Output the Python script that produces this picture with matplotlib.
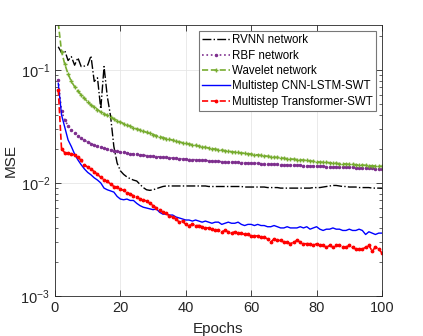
import matplotlib
matplotlib.use("Agg")
import matplotlib.pyplot as plt
import numpy as np
from matplotlib.ticker import LogLocator, NullFormatter

plt.rcParams['font.family'] = ['Liberation Sans', 'DejaVu Sans']
plt.rcParams['mathtext.fontset'] = 'custom'
plt.rcParams['mathtext.rm'] = 'Liberation Sans'

epochs = list(range(1, 101))

rvnn = [0.160, 0.142, 0.148, 0.121, 0.131, 0.110, 0.128, 0.107, 0.108, 0.110,
        0.133, 0.079, 0.085, 0.045, 0.107, 0.058, 0.039, 0.021, 0.0150, 0.0128,
        0.0119, 0.0113, 0.0109, 0.0106, 0.0104, 0.0097, 0.0091, 0.0087, 0.0086, 0.0087,
        0.0089, 0.0091, 0.0093, 0.0094, 0.0094, 0.0094, 0.0094, 0.0094, 0.0094, 0.0094,
        0.0094, 0.0094, 0.0094, 0.0094, 0.0094, 0.0094, 0.0093, 0.0093, 0.0093, 0.0093,
        0.0093, 0.0093, 0.0093, 0.0093, 0.0093, 0.0093, 0.0093, 0.0092, 0.0092, 0.0092,
        0.0092, 0.0092, 0.0092, 0.0092, 0.0091, 0.0091, 0.0091, 0.0091, 0.0090, 0.0090,
        0.0090, 0.0090, 0.0090, 0.0090, 0.0090, 0.0090, 0.0090, 0.0090, 0.0091, 0.0091,
        0.0091, 0.0092, 0.0093, 0.0094, 0.0095, 0.0095, 0.0094, 0.0093, 0.0093, 0.0092,
        0.0092, 0.0092, 0.0091, 0.0091, 0.0091, 0.0091, 0.0090, 0.0090, 0.0090, 0.0090]

rbf = [0.082, 0.043, 0.036, 0.032, 0.0295, 0.0275, 0.0260, 0.0248, 0.0238, 0.0230,
       0.0223, 0.0217, 0.0212, 0.0207, 0.0203, 0.0199, 0.0196, 0.0193, 0.0190, 0.0188,
       0.0186, 0.0184, 0.0182, 0.0180, 0.0179, 0.0177, 0.0176, 0.0174, 0.0173, 0.0172,
       0.0171, 0.0170, 0.0169, 0.0168, 0.0167, 0.0166, 0.0165, 0.0164, 0.0163, 0.0162,
       0.0161, 0.0161, 0.0160, 0.0159, 0.0158, 0.0158, 0.0157, 0.0156, 0.0156, 0.0155,
       0.0154, 0.0154, 0.0153, 0.0153, 0.0152, 0.0152, 0.0151, 0.0151, 0.0150, 0.0150,
       0.0149, 0.0149, 0.0148, 0.0148, 0.0147, 0.0147, 0.0146, 0.0146, 0.0145, 0.0145,
       0.0144, 0.0144, 0.0143, 0.0143, 0.0143, 0.0142, 0.0142, 0.0141, 0.0141, 0.0141,
       0.0140, 0.0140, 0.0139, 0.0139, 0.0139, 0.0138, 0.0138, 0.0138, 0.0137, 0.0137,
       0.0137, 0.0136, 0.0136, 0.0136, 0.0135, 0.0135, 0.0135, 0.0134, 0.0134, 0.0134]

wavelet = [0.260, 0.145, 0.112, 0.092, 0.079, 0.071, 0.065, 0.060, 0.056, 0.052,
           0.049, 0.047, 0.0445, 0.0425, 0.0410, 0.0395, 0.0380, 0.0368, 0.0356, 0.0345,
           0.0335, 0.0326, 0.0317, 0.0309, 0.0301, 0.0294, 0.0287, 0.0280, 0.0274, 0.0268,
           0.0262, 0.0257, 0.0252, 0.0247, 0.0243, 0.0239, 0.0235, 0.0231, 0.0227, 0.0224,
           0.0221, 0.0218, 0.0215, 0.0212, 0.0209, 0.0206, 0.0204, 0.0201, 0.0199, 0.0197,
           0.0195, 0.0193, 0.0191, 0.0189, 0.0187, 0.0186, 0.0184, 0.0183, 0.0181, 0.0180,
           0.0178, 0.0177, 0.0175, 0.0174, 0.0172, 0.0171, 0.0169, 0.0168, 0.0167, 0.0165,
           0.0164, 0.0163, 0.0162, 0.0161, 0.0160, 0.0159, 0.0158, 0.0157, 0.0155, 0.0154,
           0.0153, 0.0152, 0.0152, 0.0151, 0.0150, 0.0149, 0.0148, 0.0148, 0.0147, 0.0146,
           0.0146, 0.0145, 0.0144, 0.0144, 0.0143, 0.0142, 0.0142, 0.0141, 0.0141, 0.0140]

cnn_lstm = [0.076, 0.040, 0.031, 0.024, 0.021, 0.0180, 0.0160, 0.0145, 0.0133, 0.0124,
            0.0118, 0.0111, 0.0106, 0.0100, 0.0090, 0.0087, 0.0085, 0.0083, 0.0076, 0.0072,
            0.0071, 0.0072, 0.0070, 0.0070, 0.0066, 0.0063, 0.0061, 0.0060, 0.0059, 0.0058,
            0.0059, 0.0055, 0.0053, 0.0053, 0.0052, 0.0052, 0.0050, 0.0049, 0.0048, 0.0047,
            0.0047, 0.0046, 0.0047, 0.0046, 0.0045, 0.0046, 0.0045, 0.0044, 0.0045, 0.0045,
            0.0043, 0.0044, 0.0045, 0.0044, 0.0044, 0.0045, 0.0043, 0.0042, 0.0043, 0.0043,
            0.0042, 0.0043, 0.0042, 0.0042, 0.0041, 0.0041, 0.0042, 0.0041, 0.0040, 0.0040,
            0.0041, 0.0040, 0.0040, 0.0040, 0.0041, 0.0040, 0.0041, 0.0039, 0.0040, 0.0041,
            0.0039, 0.0038, 0.0039, 0.0039, 0.0040, 0.0039, 0.0039, 0.0038, 0.0038, 0.0039,
            0.0038, 0.0038, 0.0039, 0.0038, 0.0035, 0.0037, 0.0036, 0.0035, 0.0036, 0.0036]

transformer = [0.067, 0.020, 0.0185, 0.0183, 0.0180, 0.0177, 0.0170, 0.0158, 0.0145, 0.0138,
               0.0132, 0.0126, 0.0119, 0.0112, 0.0107, 0.0103, 0.0098, 0.0093, 0.0092, 0.0088,
               0.0086, 0.0082, 0.0080, 0.0077, 0.0075, 0.0072, 0.0071, 0.0069, 0.0066, 0.0063,
               0.0060, 0.0058, 0.0055, 0.0054, 0.0051, 0.0050, 0.0048, 0.0045, 0.0046, 0.0043,
               0.0042, 0.0043, 0.0042, 0.0042, 0.0041, 0.0040, 0.0040, 0.0039, 0.0038, 0.0038,
               0.0037, 0.0038, 0.0037, 0.0036, 0.0037, 0.0036, 0.0036, 0.0035, 0.0035, 0.0034,
               0.0034, 0.0034, 0.0033, 0.0033, 0.0032, 0.0030, 0.0032, 0.0031, 0.0031, 0.0030,
               0.0030, 0.0029, 0.0030, 0.0031, 0.0030, 0.0029, 0.0029, 0.0029, 0.0028, 0.0029,
               0.0028, 0.0028, 0.0027, 0.0028, 0.0027, 0.0028, 0.0028, 0.0027, 0.0027, 0.0028,
               0.0027, 0.0026, 0.0026, 0.0026, 0.0027, 0.0028, 0.0025, 0.0027, 0.0026, 0.0024]

labels = ["RVNN network", "RBF network", "Wavelet network",
          "Multistep CNN-LSTM-SWT", "Multistep Transformer-SWT"]

fig = plt.figure(figsize=(4.23, 3.36), dpi=100)
ax = fig.add_axes([0.130, 0.119, 0.773, 0.807])

ax.plot(epochs, rvnn, color='black', linestyle='-.', linewidth=1.0, label=labels[0])
ax.plot(epochs, rbf, color='#7E2F8E', linestyle=':', linewidth=1.2, marker='.', markersize=3, label=labels[1])
ax.plot(epochs, wavelet, color='#77AC30', linestyle='--', linewidth=1.2, marker='+', markersize=3.5, markeredgewidth=1.0, label=labels[2])
ax.plot(epochs, cnn_lstm, color='#0000FF', linestyle='-', linewidth=1.0, label=labels[3])
ax.plot(epochs, transformer, color='#FF0000', linestyle='--', linewidth=1.2, marker='.', markersize=3.5, label=labels[4])

ax.set_yscale('log')
ax.set_xlim(0, 100)
ax.set_ylim(1e-3, 0.25)
ax.set_xticks([0, 20, 40, 60, 80, 100])
ax.yaxis.set_major_locator(LogLocator(base=10, numticks=10))
ax.yaxis.set_minor_locator(LogLocator(base=10, subs=np.arange(2, 10), numticks=10))
ax.yaxis.set_minor_formatter(NullFormatter())

axc = '#262626'
ax.tick_params(which='both', direction='in', top=True, right=True, colors=axc, labelsize=10.5)
ax.tick_params(which='major', length=4, width=0.6)
ax.tick_params(which='minor', length=2, width=0.5)
for s in ax.spines.values():
    s.set_color(axc)
    s.set_linewidth(0.6)
ax.grid(True, which='major', color='#E6E6E6', linewidth=0.6)
ax.set_axisbelow(True)

ax.set_xlabel('Epochs', fontsize=11, color=axc, labelpad=5)
ax.set_ylabel('MSE', fontsize=11, color=axc, labelpad=2)

leg = ax.legend(loc='upper right', fontsize=8.3, frameon=True, fancybox=False,
                edgecolor='#777777', framealpha=1, borderaxespad=0.5, handlelength=2.4,
                handletextpad=0.2, labelspacing=0.3, borderpad=0.3)
leg.get_frame().set_linewidth(0.8)

fig.savefig('out.png', dpi=100)
